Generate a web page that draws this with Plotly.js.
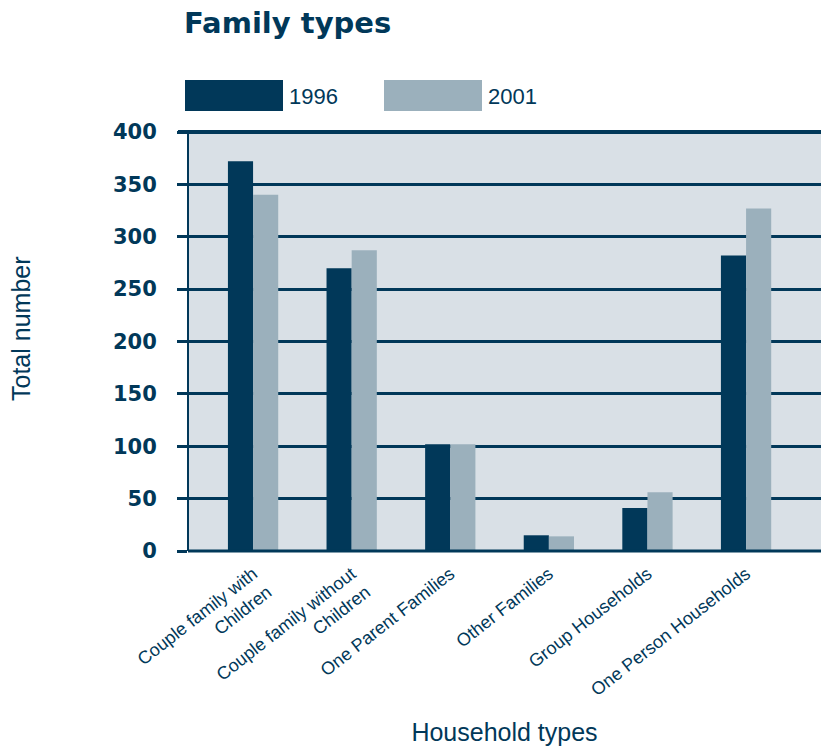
<!DOCTYPE html>
<html>
<head>
<meta charset="utf-8">
<script src="https://cdn.plot.ly/plotly-3.0.1.min.js"></script>
<style>html,body{margin:0;padding:0;background:#fff;}#chart{width:821px;height:746px;}</style>
</head>
<body>
<div id="chart"></div>
<script>
const categories = ["Couple family with<br>Children", "Couple family without<br>Children", "One Parent Families", "Other Families", "Group Households", "One Person Households"];
const values1996 = [372, 270, 102, 15, 41, 282];
const values2001 = [340, 287, 102, 14, 56, 327];
const seriesNames = ["1996", "2001"];
const yTicks = [0, 50, 100, 150, 200, 250, 300, 350, 400];

const dark = "#013859";
const light = "#9bb0bc";
const idx = categories.map((c, i) => i);

const traces = [
  {type: "bar", x: idx, y: values1996, name: seriesNames[0], marker: {color: dark}, showlegend: false},
  {type: "bar", x: idx, y: values2001, name: seriesNames[1], marker: {color: light}, showlegend: false}
];

const layout = {
  width: 821, height: 746,
  margin: {l: 188, r: 0, t: 132, b: 195},
  paper_bgcolor: "#ffffff",
  plot_bgcolor: "#d9e0e6",
  barmode: "group",
  bargap: 0.49,
  bargroupgap: 0,
  font: {family: "Liberation Sans, Arial, sans-serif", color: dark},
  title: {text: "<b>Family types</b>", xref: "container", x: 184/821, xanchor: "left", yref: "container", y: 1 - 23/746, yanchor: "middle",
          font: {size: 29, color: dark, family: "DejaVu Sans, Liberation Sans, sans-serif"}},
  xaxis: {
    range: [-0.66, 5.76],
    tickmode: "array", tickvals: idx, ticktext: categories,
    tickangle: -38,
    ticklabelstandoff: 8,
    tickfont: {size: 18, color: dark, family: "Liberation Sans Narrow, Liberation Sans, Arial, sans-serif"},
    showgrid: false, zeroline: false,
    showline: false,
    ticks: "",
    title: {text: "Household types", font: {size: 25, color: dark, family: "Liberation Sans Narrow, Liberation Sans, sans-serif"}, standoff: 30}
  },
  yaxis: {
    range: [0, 400],
    tickmode: "array", tickvals: yTicks,
    showgrid: true, gridcolor: dark, gridwidth: 3,
    zeroline: false,
    showline: false,
    ticks: "outside", ticklen: 10, tickwidth: 3, tickcolor: dark,
    ticklabelstandoff: 16,
    tickfont: {size: 21, color: dark, family: "DejaVu Sans, Liberation Sans, Arial, sans-serif", weight: "bold"}
  },
  shapes: [
    {type: "line", xref: "paper", yref: "paper", x0: 0, x1: 0, y0: 0, y1: 1, line: {color: dark, width: 2}},
    {type: "line", xref: "paper", yref: "paper", x0: 0, x1: 1, y0: 0, y1: 0, line: {color: dark, width: 3}},
    {type: "line", xref: "paper", yref: "paper", x0: -10/633, x1: 1, y0: 1, y1: 1, line: {color: dark, width: 4}},
    {type: "rect", xref: "paper", yref: "paper", x0: (185-188)/633, x1: (283-188)/633, y0: (551-111)/419, y1: (551-80)/419, fillcolor: dark, line: {width: 0}},
    {type: "rect", xref: "paper", yref: "paper", x0: (384-188)/633, x1: (482-188)/633, y0: (551-111)/419, y1: (551-80)/419, fillcolor: light, line: {width: 0}}
  ],
  annotations: [
    {xref: "paper", yref: "paper", x: (287-188)/633, y: (551-97)/419, text: seriesNames[0], showarrow: false, xanchor: "left", yanchor: "middle",
     font: {size: 22, color: dark, family: "Liberation Sans, Arial, sans-serif"}},
    {xref: "paper", yref: "paper", x: (486-188)/633, y: (551-97)/419, text: seriesNames[1], showarrow: false, xanchor: "left", yanchor: "middle",
     font: {size: 22, color: dark, family: "Liberation Sans, Arial, sans-serif"}},
    {xref: "paper", yref: "paper", x: (21-188)/633, y: (551-329)/419, text: "Total number", textangle: -90, showarrow: false, xanchor: "center", yanchor: "middle",
     font: {size: 25, color: dark, family: "Liberation Sans Narrow, Liberation Sans, sans-serif"}}
  ]
};

Plotly.newPlot("chart", traces, layout, {displayModeBar: false, staticPlot: true});
</script>
</body>
</html>
